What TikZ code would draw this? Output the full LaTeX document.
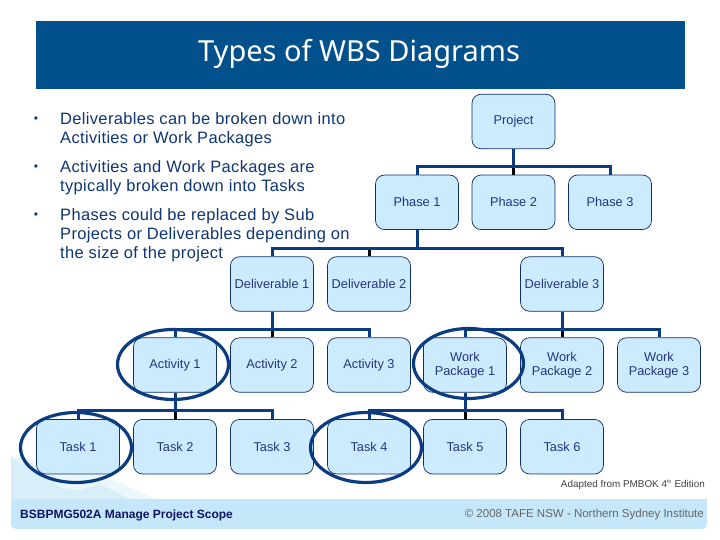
\documentclass[tikz,border=0pt]{standalone}
\usepackage{fontspec}
\setmainfont{Liberation Sans}
\newfontfamily\titlefont{Noto Sans}
\newfontfamily\spacedfont[LetterSpace=2]{Liberation Sans}
\usetikzlibrary{shapes.geometric}
\definecolor{hdr}{HTML}{02518C}
\definecolor{boxfill}{HTML}{CCEBFF}
\definecolor{boxline}{HTML}{0E2F6B}
\definecolor{boxtext}{HTML}{263580}
\definecolor{conn}{HTML}{0B3C82}
\definecolor{bodytext}{HTML}{0F3674}
\definecolor{band}{HTML}{C5E7F9}
\definecolor{wash}{HTML}{D8EFFA}
\definecolor{wash2}{HTML}{ECF7FD}
\definecolor{codetext}{HTML}{0F1466}
\tikzset{
  wbs/.style={draw=boxline,line width=0.7pt,fill=boxfill,rounded corners=9pt,minimum width=83pt,minimum height=54.5pt,inner sep=0pt,align=center,text=boxtext,font=\fontsize{12.8}{14.5}\selectfont,execute at begin node={\vspace*{5pt}}},
  bar/.style={draw=conn,line width=3pt},
  stub/.style={draw=black,line width=3pt},
  ring/.style={draw=conn,line width=3.2pt,ellipse,inner sep=0pt,fill=none},
  bullettext/.style={anchor=west,inner sep=0pt,text=bodytext,font=\spacedfont\fontsize{16.5}{19}\selectfont,align=left},
}
\begin{document}
\begin{tikzpicture}[x=1pt,y=-1pt]
\useasboundingbox (0,0) rectangle (720,540);
\fill[white] (0,0) rectangle (720,540);
% footer artwork
\fill[wash2] (11,456) -- (40,462) -- (85,470) -- (125,485) -- (155,499) -- (11,499) -- cycle;
\fill[wash] (11,458) -- (30,466) -- (62,488) -- (80,490) -- (100,484) -- (130,499) -- (11,499) -- cycle;
\fill[band,rounded corners=5pt] (11,499) -- (707,499) -- (707,529) -- (11,529) -- cycle;
\fill[band] (11,499) rectangle (707,510);
% header
\fill[hdr] (36,21) rectangle (684.5,89);
\node[text=white,inner sep=0pt,font=\titlefont\fontsize{29}{32}\selectfont] (title) at (359,53.5) {Types of WBS Diagrams};
% bullets
\node[bullettext] (b1) at (60,129.5) {Deliverables can be broken down into\\Activities or Work Packages};
\node[bullettext] (b2) at (60,177.5) {Activities and Work Packages are\\typically broken down into Tasks};
\node[bullettext] (b3) at (60,235) {Phases could be replaced by Sub\\Projects or Deliverables depending on\\the size of the project};
\node[text=bodytext,inner sep=0pt,font=\fontsize{12}{14}\selectfont] (d1) at (36,120) {•};
\node[text=bodytext,inner sep=0pt,font=\fontsize{12}{14}\selectfont] (d2) at (36,168) {•};
\node[text=bodytext,inner sep=0pt,font=\fontsize{12}{14}\selectfont] (d3) at (36,216) {•};
% boxes
\node[wbs] (project) at (513.5,121.5) {Project};
\node[wbs] (phase1) at (417,202.3) {Phase 1};
\node[wbs] (phase2) at (513.5,202.3) {Phase 2};
\node[wbs] (phase3) at (610,202.3) {Phase 3};
\node[wbs] (del1) at (272,284) {Deliverable 1};
\node[wbs] (del2) at (369,284) {Deliverable 2};
\node[wbs] (del3) at (562,284) {Deliverable 3};
\node[wbs] (act1) at (175,365) {Activity 1};
\node[wbs] (act2) at (272,365) {Activity 2};
\node[wbs] (act3) at (369,365) {Activity 3};
\node[wbs] (wp1) at (465,365) {Work\\Package 1};
\node[wbs] (wp2) at (562,365) {Work\\Package 2};
\node[wbs] (wp3) at (659,365) {Work\\Package 3};
\node[wbs] (t1) at (78,446.7) {Task 1};
\node[wbs] (t2) at (175,446.7) {Task 2};
\node[wbs] (t3) at (272,446.7) {Task 3};
\node[wbs] (t4) at (369,446.7) {Task 4};
\node[wbs] (t5) at (465,446.7) {Task 5};
\node[wbs] (t6) at (562,446.7) {Task 6};
% bus junctions
\coordinate (j1) at (513.5,166.5);
\coordinate (j2) at (417,248);
\coordinate (j3) at (272,329.5);
\coordinate (j4) at (562,329.5);
\coordinate (j5) at (175,410.5);
\coordinate (j6) at (465,410.5);
% connectors
\draw[stub] (j1) -- (phase2.north);
\draw[stub] (j2 -| del2.north) -- (del2.north);
\draw[stub] (j3) -- (act2.north);
\draw[stub] (j4) -- (wp2.north);
\draw[stub] (j5) -- (t2.north);
\draw[stub] (j6) -- (t5.north);
\draw[bar] (project.south) -- (j1);
\draw[bar] (phase1.north) |- (j1) -| (phase3.north);
\draw[bar] (phase1.south) -- (j2);
\draw[bar] (del1.north) |- (j2) -| (del3.north);
\draw[bar] (del1.south) -- (j3);
\draw[bar] (act1.north) |- (j3) -| (act3.north);
\draw[bar] (del3.south) -- (j4);
\draw[bar] (wp1.north) |- (j4) -| (wp3.north);
\draw[bar] (act1.south) -- (j5);
\draw[bar] (t1.north) |- (j5) -| (t3.north);
\draw[bar] (wp1.south) -- (j6);
\draw[bar] (t4.north) |- (j6) -| (t6.north);
% rings
\node[ring,minimum width=111pt,minimum height=70pt] (r1) at (173,364.5) {};
\node[ring,minimum width=111pt,minimum height=70pt] (r2) at (76,447.5) {};
\node[ring,minimum width=111pt,minimum height=70pt] (r3) at (366,447.5) {};
\node[ring,minimum width=110pt,minimum height=70pt] (r4) at (468.5,363.5) {};
% footer text
\node[anchor=east,inner sep=0pt,text=black!75,font=\fontsize{9.9}{11}\selectfont] (adapt) at (705,485) {Adapted from PMBOK 4\textsuperscript{\fontsize{5}{6}\selectfont th} Edition};
\node[anchor=west,inner sep=0pt,text=codetext,font=\bfseries\fontsize{12}{14}\selectfont] (code) at (20,515) {BSBPMG502A Manage Project Scope};
\node[anchor=east,inner sep=0pt,text=black!60,font=\fontsize{11.5}{14}\selectfont] (copy) at (704,515) {© 2008 TAFE NSW - Northern Sydney Institute};
\end{tikzpicture}
\end{document}
